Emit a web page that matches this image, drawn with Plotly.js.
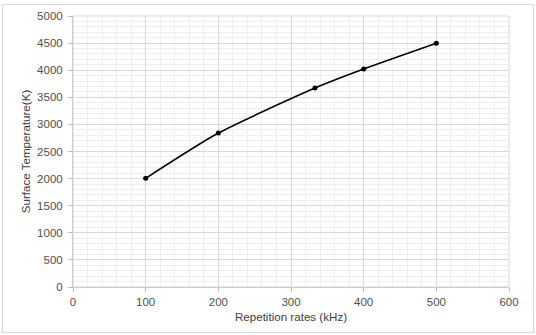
<!DOCTYPE html>
<html><head><meta charset="utf-8">
<script src="https://cdn.plot.ly/plotly-3.0.1.min.js"></script>
<style>html,body{margin:0;padding:0;background:#fff}#c{width:536px;height:335px;position:relative}
#frame{position:absolute;left:2px;top:4px;width:532px;height:329px;border:1px solid #d9d9d9;box-sizing:border-box;pointer-events:none}</style>
</head><body><div id="c"></div><div id="frame"></div>
<script>
const rates = [100, 200, 333, 400, 500];
const temps = [2005, 2840, 3670, 4020, 4495];
const xTicks = [0, 100, 200, 300, 400, 500, 600];
const yTicks = [0, 500, 1000, 1500, 2000, 2500, 3000, 3500, 4000, 4500, 5000];
const font = {family: 'Liberation Sans, Arial, sans-serif', size: 11.5, color: '#505050'};
const titleFont = {family: 'Liberation Sans, Arial, sans-serif', size: 11.6, color: '#404040'};
Plotly.newPlot('c', [{
  x: rates, y: temps, type: 'scatter', mode: 'lines+markers',
  line: {color: '#000', width: 1.6, shape: 'spline', smoothing: 0.6},
  marker: {color: '#000', size: 5}
}], {
  width: 536, height: 335,
  margin: {l: 73, r: 27, t: 16, b: 48},
  paper_bgcolor: 'rgba(0,0,0,0)', plot_bgcolor: '#fff',
  showlegend: false, font: font,
  xaxis: {range: [0, 600], tickvals: xTicks, ticktext: xTicks.map(String),
    showgrid: true, gridcolor: '#d9d9d9', gridwidth: 1,
    minor: {dtick: 20, showgrid: true, gridcolor: '#efefef', gridwidth: 1},
    showline: true, linecolor: '#bfbfbf', ticks: 'outside', ticklen: 4, tickcolor: '#bfbfbf',
    zeroline: false, fixedrange: true, tickfont: font,
    title: {text: 'Repetition rates (kHz)', font: titleFont, standoff: 6}},
  yaxis: {range: [0, 5000], tickvals: yTicks, ticktext: yTicks.map(String),
    showgrid: true, gridcolor: '#d9d9d9', gridwidth: 1,
    minor: {dtick: 100, showgrid: true, gridcolor: '#efefef', gridwidth: 1},
    showline: true, linecolor: '#bfbfbf', ticks: 'outside', ticklen: 4, tickcolor: '#bfbfbf',
    ticklabelstandoff: 3,
    zeroline: false, fixedrange: true, tickfont: font,
    title: {text: 'Surface Temperature(K)', font: titleFont, standoff: 4}},
  shapes: [{type: 'rect', xref: 'paper', yref: 'paper', x0: 0, x1: 1, y0: 0, y1: 1, line: {color: '#d9d9d9', width: 1}}]
}, {displayModeBar: false, staticPlot: true});
</script></body></html>
